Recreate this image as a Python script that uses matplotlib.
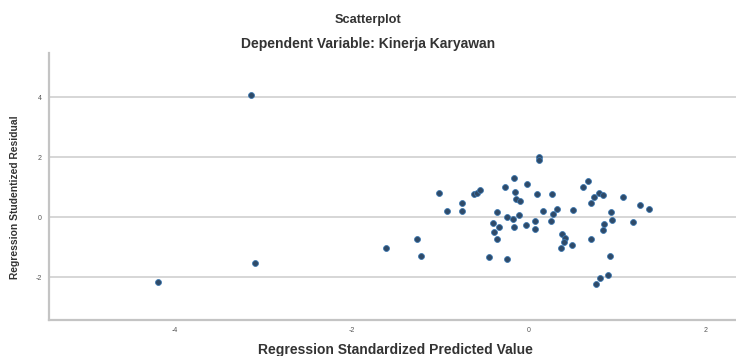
import matplotlib
matplotlib.use("Agg")
import matplotlib.pyplot as plt

plt.rcParams['font.family'] = ['Liberation Sans', 'DejaVu Sans']

# Regression Standardized Predicted Value
pred = [-3.133, -3.093, -4.189, -1.608, -1.262, -1.220, -1.020, -0.930, -0.757, -0.757,
        -0.621, -0.584, -0.546, -0.455, -0.410, -0.342, -0.388, -0.365, -0.354, -0.271,
        -0.252, -0.245, -0.177, -0.166, -0.155, -0.144, -0.102, -0.110, -0.162, -0.034,
        -0.019, 0.071, 0.064, 0.094, 0.116, 0.116, 0.158, 0.263, 0.313, 0.275,
        0.252, 0.494, 0.373, 0.410, 0.395, 0.365, 0.482, 0.607, 0.670, 0.697,
        0.734, 0.794, 0.840, 0.704, 0.757, 0.802, 0.896, 0.915, 0.833, 0.847,
        0.923, 0.938, 1.066, 1.172, 1.254, 1.353]
# Regression Studentized Residual
resid = [4.07, -1.53, -2.17, -1.02, -0.74, -1.30, 0.80, 0.22, 0.48, 0.22,
         0.76, 0.81, 0.89, -1.33, -0.21, -0.32, -0.49, -0.74, 0.17, 1.00,
         0.01, -1.39, -0.06, 1.31, 0.83, 0.62, 0.53, 0.08, -0.32, -0.27,
         1.12, -0.14, -0.38, 0.77, 2.01, 1.90, 0.21, 0.77, 0.26, 0.10,
         -0.14, 0.23, -0.56, -0.71, -0.82, -1.02, -0.94, 1.01, 1.20, 0.46,
         0.66, 0.79, 0.73, -0.73, -2.23, -2.04, -1.93, -1.29, -0.43, -0.23,
         0.16, -0.10, 0.67, -0.17, 0.42, 0.28]

xticks = [-4, -2, 0, 2]
yticks = [-2, 0, 2, 4]

fig = plt.figure(figsize=(7.36, 3.56), dpi=100)
ax = fig.add_axes([49/736, 1 - 320/356, 1 - 49/736, (320 - 53)/356])

ax.set_xlim(-5.42, 2.34)
ax.set_ylim(-3.43, 5.47)
ax.set_xticks(xticks)
ax.set_yticks(yticks)
ax.set_xticklabels([str(t) for t in xticks])
ax.set_yticklabels([str(t) for t in yticks])
ax.tick_params(length=0, labelsize=5, colors='#555555', pad=5)

ax.yaxis.grid(True, color='#d6d6d6', linewidth=1.4)
ax.set_axisbelow(True)
for s in ['top', 'right']:
    ax.spines[s].set_visible(False)
for s in ['left', 'bottom']:
    ax.spines[s].set_color('#c4c4c4')
    ax.spines[s].set_linewidth(1.6)

ax.scatter(pred, resid, s=18, c='#2f4a68', edgecolors='#3d78b0', linewidths=0.6, zorder=3)

fig.text(0.5, 1 - 20/356, 'Scatterplot', ha='center', va='center',
         fontsize=9.2, fontweight='bold', color='#333333')
fig.text(0.5, 1 - 44/356, 'Dependent Variable: Kinerja Karyawan', ha='center', va='center',
         fontsize=10.0, fontweight='bold', color='#333333')
fig.text(395/736, 1 - 350/356, 'Regression Standardized Predicted Value', ha='center', va='center',
         fontsize=10.0, fontweight='bold', color='#333333')
fig.text(15/736, 1 - 197/356, 'Regression Studentized Residual', ha='center', va='center',
         rotation=90, fontsize=7.4, fontweight='bold', color='#333333')

fig.savefig('out.png', dpi=100)
